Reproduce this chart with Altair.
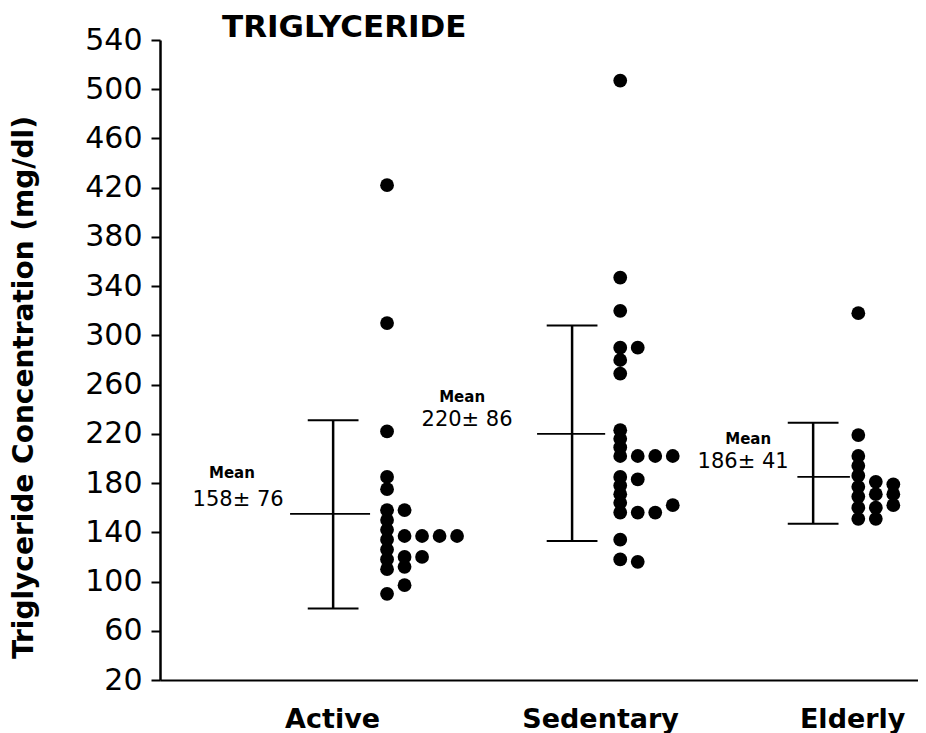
import altair as alt
import pandas as pd

# ---------------- data ----------------
groups = ["Active", "Sedentary", "Elderly"]

active_values = [422, 310, 222, 185, 175, 158, 150, 142, 134, 126, 118, 110, 90,
                 158, 137, 120, 112, 97, 137, 120, 137, 137]
active_cols = [0, 0, 0, 0, 0, 0, 0, 0, 0, 0, 0, 0, 0,
               1, 1, 1, 1, 1, 2, 2, 3, 4]

sedentary_values = [507, 347, 320, 290, 280, 269, 290, 223, 216, 209, 202, 202, 202, 202,
                    185, 178, 171, 164, 156, 183, 156, 156, 162, 134, 118, 116]
sedentary_cols = [0, 0, 0, 0, 0, 0, 1, 0, 0, 0, 0, 1, 2, 3,
                  0, 0, 0, 0, 0, 1, 1, 2, 3, 0, 0, 1]

elderly_values = [318, 219, 202, 194, 186, 177, 169, 160, 151, 181, 171, 160, 151, 179, 171, 162]
elderly_cols = [0, 0, 0, 0, 0, 0, 0, 0, 0, 1, 1, 1, 1, 2, 2, 2]

bar_low = [78, 133, 147]
bar_mean = [155, 220, 185]
bar_high = [231, 308, 229]
mean_word = ["Mean", "Mean", "Mean"]
mean_text = ["158\u00b1 76", "220\u00b1 86", "186\u00b1 41"]

y_ticks = list(range(20, 541, 40))

# ---------------- layout (x in "dot column" units) ----------------
X_MAX = 43.3
dot_base = [12.97, 26.29, 39.89]
bar_x = [9.89, 23.54, 37.31]
label_x = [9.83, 25.14, 39.54]
cap_half = 1.45
mean_left = [2.46, 2.0, 0.9]
mean_right = [2.11, 1.89, 2.1]
word_pos = [(4.11, 188), (17.26, 250), (33.6, 216)]
num_pos = [(4.46, 166), (17.54, 231), (33.31, 197)]

FONT = "DejaVu Sans"

# ---------------- tables ----------------
rows = []
for g, vals, cols in zip(range(3), [active_values, sedentary_values, elderly_values],
                         [active_cols, sedentary_cols, elderly_cols]):
    for v, c in zip(vals, cols):
        rows.append({"group": groups[g], "value": v, "x": dot_base[g] + c})
dots = pd.DataFrame(rows)

bars = pd.DataFrame({
    "group": groups,
    "x": bar_x,
    "lo": bar_low,
    "mean": bar_mean,
    "hi": bar_high,
    "cap_l": [b - cap_half for b in bar_x],
    "cap_r": [b + cap_half for b in bar_x],
    "mean_l": [b - l for b, l in zip(bar_x, mean_left)],
    "mean_r": [b + r for b, r in zip(bar_x, mean_right)],
})

notes = pd.DataFrame(
    [{"x": p[0], "y": p[1], "t": w, "kind": "word"} for p, w in zip(word_pos, mean_word)]
    + [{"x": p[0], "y": p[1], "t": t, "kind": "num"} for p, t in zip(num_pos, mean_text)]
)

label_expr = " : ".join(
    f"datum.value < {label_x[i] + 1} ? '{groups[i]}'" for i in range(2)
) + f" : '{groups[2]}'"

xscale = alt.Scale(domain=[0, X_MAX], nice=False, zero=False)
yscale = alt.Scale(domain=[20, 540], nice=False, zero=False)

x_axis = alt.Axis(values=label_x, labelExpr=label_expr, ticks=False, grid=False,
                  domainColor="black", domainWidth=2, labelFontSize=27,
                  labelFont=FONT, labelFontWeight="bold", labelColor="black",
                  labelPadding=26, title=None, labelFlush=False)
y_axis = alt.Axis(values=y_ticks, grid=False, domainColor="black", domainWidth=2.5,
                  tickColor="black", tickSize=9, tickWidth=2, labelFontSize=30,
                  labelFont=FONT, labelColor="black", labelPadding=9,
                  title="Triglyceride Concentration (mg/dl)", titleFont=FONT,
                  titleFontSize=28, titleFontWeight="bold", titleColor="black",
                  titleAngle=270, titleX=-136, titleY=347, titleAlign="center",
                  titleBaseline="middle", labelFlush=False)

points = alt.Chart(dots).mark_circle(size=190, color="black", opacity=1).encode(
    x=alt.X("x:Q", scale=xscale, axis=x_axis),
    y=alt.Y("value:Q", scale=yscale, axis=y_axis),
)

vbar = alt.Chart(bars).mark_rule(color="black", strokeWidth=2.5).encode(
    x="x:Q", y="lo:Q", y2="hi:Q")
cap_top = alt.Chart(bars).mark_rule(color="black", strokeWidth=2).encode(
    x="cap_l:Q", x2="cap_r:Q", y="hi:Q")
cap_bot = alt.Chart(bars).mark_rule(color="black", strokeWidth=2).encode(
    x="cap_l:Q", x2="cap_r:Q", y="lo:Q")
mline = alt.Chart(bars).mark_rule(color="black", strokeWidth=1.8).encode(
    x="mean_l:Q", x2="mean_r:Q", y="mean:Q")

words = alt.Chart(notes).transform_filter(alt.datum.kind == "word").mark_text(
    font=FONT, fontSize=15, fontWeight="bold", color="black").encode(
    x="x:Q", y="y:Q", text="t:N")
nums = alt.Chart(notes).transform_filter(alt.datum.kind == "num").mark_text(
    font=FONT, fontSize=21, color="black").encode(
    x="x:Q", y="y:Q", text="t:N")

chart = alt.layer(vbar, cap_top, cap_bot, mline, points, words, nums).properties(
    width=758,
    height=640,
    padding={"left": 152, "top": 32, "right": 0, "bottom": 60},
    autosize=alt.AutoSizeParams(type="none"),
    title=alt.TitleParams("TRIGLYCERIDE", anchor="start", frame="group", dx=62,
                          dy=21, fontSize=31, font=FONT, fontWeight="bold",
                          color="black", offset=2),
    background="white",
).configure_view(stroke=None)

chart.save("out.html", embed_options={"renderer": "svg", "actions": False})
